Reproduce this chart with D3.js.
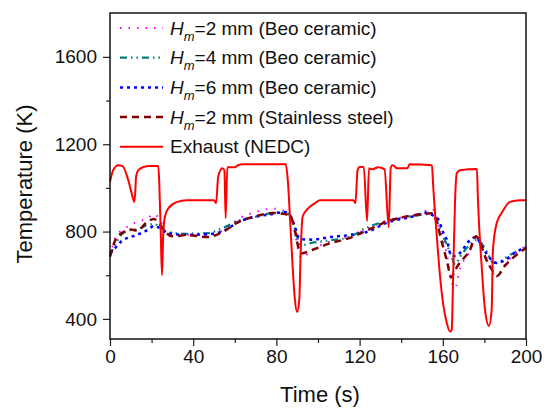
<!DOCTYPE html>
<html>
<head>
<meta charset="utf-8">
<script src="https://cdn.jsdelivr.net/npm/d3@7"></script>
<style>
  body { margin: 0; background: #fff; }
  text { font-family: Arial, "Liberation Sans", sans-serif; fill: #111; }
</style>
</head>
<body>
<div id="chart"></div>
<script>
// time grid for the wall temperature curves (s)
const wallTime = [0, 3, 6, 10, 13, 18, 21, 25, 27, 30, 37, 47, 55, 62, 70, 78, 84, 87, 89, 90.5, 92, 97, 106, 115, 124, 133, 146, 152, 155, 158, 160, 162, 164, 166, 168, 173, 176, 178, 181, 184, 186, 190, 195, 200];

// Hm = 2 mm, BeO ceramic
const beo2 = [690, 780, 807, 830, 845, 860, 880, 835, 790, 780, 785, 780, 810, 860, 889, 905, 895, 870, 790, 715, 680, 715, 755, 776, 815, 850, 875, 895, 903, 825, 770, 690, 580, 541, 620, 710, 775, 740, 680, 610, 600, 650, 700, 735];
// Hm = 4 mm, BeO ceramic
const beo4 = [690, 750, 790, 807, 810, 830, 834, 815, 800, 795, 790, 793, 820, 850, 868, 885, 888, 870, 810, 760, 738, 748, 760, 775, 820, 848, 870, 880, 880, 830, 780, 740, 690, 650, 680, 740, 761, 753, 710, 660, 656, 680, 707, 730];
// Hm = 6 mm, BeO ceramic
const beo6 = [700, 730, 760, 775, 785, 807, 825, 810, 795, 790, 785, 788, 805, 845, 868, 880, 890, 865, 820, 775, 765, 763, 775, 784, 800, 840, 870, 886, 875, 853, 800, 761, 690, 688, 700, 760, 776, 745, 700, 665, 656, 670, 705, 728];
// Hm = 2 mm, stainless steel
const steel2 = [685, 770, 795, 810, 805, 845, 858, 820, 795, 778, 784, 775, 803, 845, 870, 885, 880, 865, 800, 730, 700, 715, 747, 770, 807, 845, 875, 882, 884, 810, 735, 665, 590, 625, 655, 715, 779, 745, 670, 620, 597, 645, 690, 725];

// exhaust gas, NEDC
const exhaustTime = [0, 1.5, 4, 6, 8.8, 10.4, 11.2, 11.7, 12.2, 12.5, 13.6, 16, 19, 23.2, 23.7, 24.4, 25, 25.6, 26.4, 28, 32, 37, 50, 51, 52, 54, 55, 55.6, 56.4, 60, 61.5, 64, 84.5, 85.6, 86.5, 87.8, 88.9, 90, 91, 91.7, 92.6, 94.5, 98.6, 101, 117, 118, 119, 120, 122, 123.6, 124.5, 126, 129, 132, 134, 135, 136, 138, 143, 144, 154.8, 155.3, 157, 158.7, 160.1, 161.9, 163.5, 164.3, 164.9, 165.9, 166.7, 168.3, 176.4, 176.9, 178.7, 180.3, 182.2, 183.5, 184.1, 185.9, 188.3, 192.3, 197, 200];
const exhaust = [1028, 1081, 1104, 1100, 1035, 975, 947, 936, 990, 1050, 1081, 1095, 1100, 1100, 1020, 793, 601, 793, 868, 906, 935, 944, 944, 930, 1050, 1090, 1080, 862, 1095, 1095, 1104, 1108, 1108, 1020, 868, 640, 487, 432, 487, 715, 868, 898, 930, 944, 944, 930, 1080, 1096, 1096, 848, 1090, 1085, 1095, 1085, 820, 1095, 1104, 1090, 1090, 1108, 1104, 1021, 793, 593, 473, 382, 342, 350, 565, 944, 1067, 1081, 1086, 944, 640, 441, 368, 441, 715, 838, 885, 936, 944, 944];

const xTicks = [0, 40, 80, 120, 160, 200];
const yTicks = [400, 800, 1200, 1600];

const width = 549, height = 408;
const plotL = 110, plotR = 526, plotT = 13, plotB = 339;

const svg = d3.select("#chart")
  .append("svg")
  .attr("width", width)
  .attr("height", height);

const x = d3.scaleLinear().domain([0, 200]).range([plotL, plotR]);
const y = d3.scaleLinear().domain([308, 1801]).range([plotB, plotT]);

const series = [
  { name: "2 mm (Beo ceramic)", sub: true, values: beo2, color: "#ff00ff", width: 2, dash: "1.5,7" },
  { name: "4 mm (Beo ceramic)", sub: true, values: beo4, color: "#008080", width: 2.2, dash: "7,4,1.5,4,1.5,4" },
  { name: "6 mm (Beo ceramic)", sub: true, values: beo6, color: "#0000ff", width: 2.5, dash: "3,4" },
  { name: "2 mm (Stainless steel)", sub: true, values: steel2, color: "#800000", width: 2.5, dash: "7,5" }
];

const line = d3.line()
  .x(d => x(d[0]))
  .y(d => y(d[1]))
  .curve(d3.curveMonotoneX);

const plot = svg.append("g");

series.forEach(s => {
  plot.append("path")
    .datum(wallTime.map((t, i) => [t, s.values[i]]))
    .attr("fill", "none")
    .attr("stroke", s.color)
    .attr("stroke-width", s.width)
    .attr("stroke-dasharray", s.dash)
    .attr("d", line);
});

plot.append("path")
  .datum(exhaustTime.map((t, i) => [t, exhaust[i]]))
  .attr("fill", "none")
  .attr("stroke", "#ff0000")
  .attr("stroke-width", 2)
  .attr("stroke-linejoin", "round")
  .attr("d", line);

// axes
const xAxis = svg.append("g")
  .attr("transform", `translate(0,${plotB})`)
  .call(d3.axisBottom(x).tickValues(xTicks).tickSize(7).tickPadding(4).tickFormat(d3.format("d")));
xAxis.append("g").call(d3.axisBottom(x).tickValues(d3.range(20, 200, 40)).tickSize(4).tickFormat(""));

const yAxis = svg.append("g")
  .attr("transform", `translate(${plotL},0)`)
  .call(d3.axisLeft(y).tickValues(yTicks).tickSize(7).tickPadding(6).tickFormat(d3.format("d")));
yAxis.append("g").call(d3.axisLeft(y).tickValues([600, 1000, 1400]).tickSize(4).tickFormat(""));

svg.selectAll(".domain").remove();
svg.selectAll(".tick line").attr("stroke", "#222").attr("stroke-width", 1.2);
svg.selectAll(".tick text").style("font-size", "19px").attr("fill", "#111");

svg.append("rect")
  .attr("x", plotL).attr("y", plotT)
  .attr("width", plotR - plotL).attr("height", plotB - plotT)
  .attr("fill", "none")
  .attr("stroke", "#111")
  .attr("stroke-width", 1.5);

svg.append("text")
  .attr("x", (plotL + plotR) / 2 + 2)
  .attr("y", 402)
  .attr("text-anchor", "middle")
  .style("font-size", "22px")
  .text("Time (s)");

svg.append("text")
  .attr("transform", `translate(32,${(plotT + plotB) / 2 + 8}) rotate(-90)`)
  .attr("text-anchor", "middle")
  .style("font-size", "22px")
  .text("Temperature (K)");

// legend
const legendItems = series.concat([{ name: "Exhaust (NEDC)", sub: false, color: "#ff0000", width: 2, dash: null }]);
const legend = svg.append("g");
legendItems.forEach((s, i) => {
  const ly = 28 + i * 29.7;
  legend.append("line")
    .attr("x1", 120).attr("x2", 163)
    .attr("y1", ly).attr("y2", ly)
    .attr("stroke", s.color)
    .attr("stroke-width", s.width)
    .attr("stroke-dasharray", s.dash);
  const t = legend.append("text")
    .attr("x", 170)
    .attr("y", ly + 6.5)
    .style("font-size", "19px");
  if (s.sub) {
    t.append("tspan").style("font-style", "italic").text("H");
    t.append("tspan").attr("dy", 6).style("font-size", "13px").style("font-style", "italic").text("m");
    t.append("tspan").attr("dy", -6).text("=" + s.name);
  } else {
    t.text(s.name);
  }
});
</script>
</body>
</html>
